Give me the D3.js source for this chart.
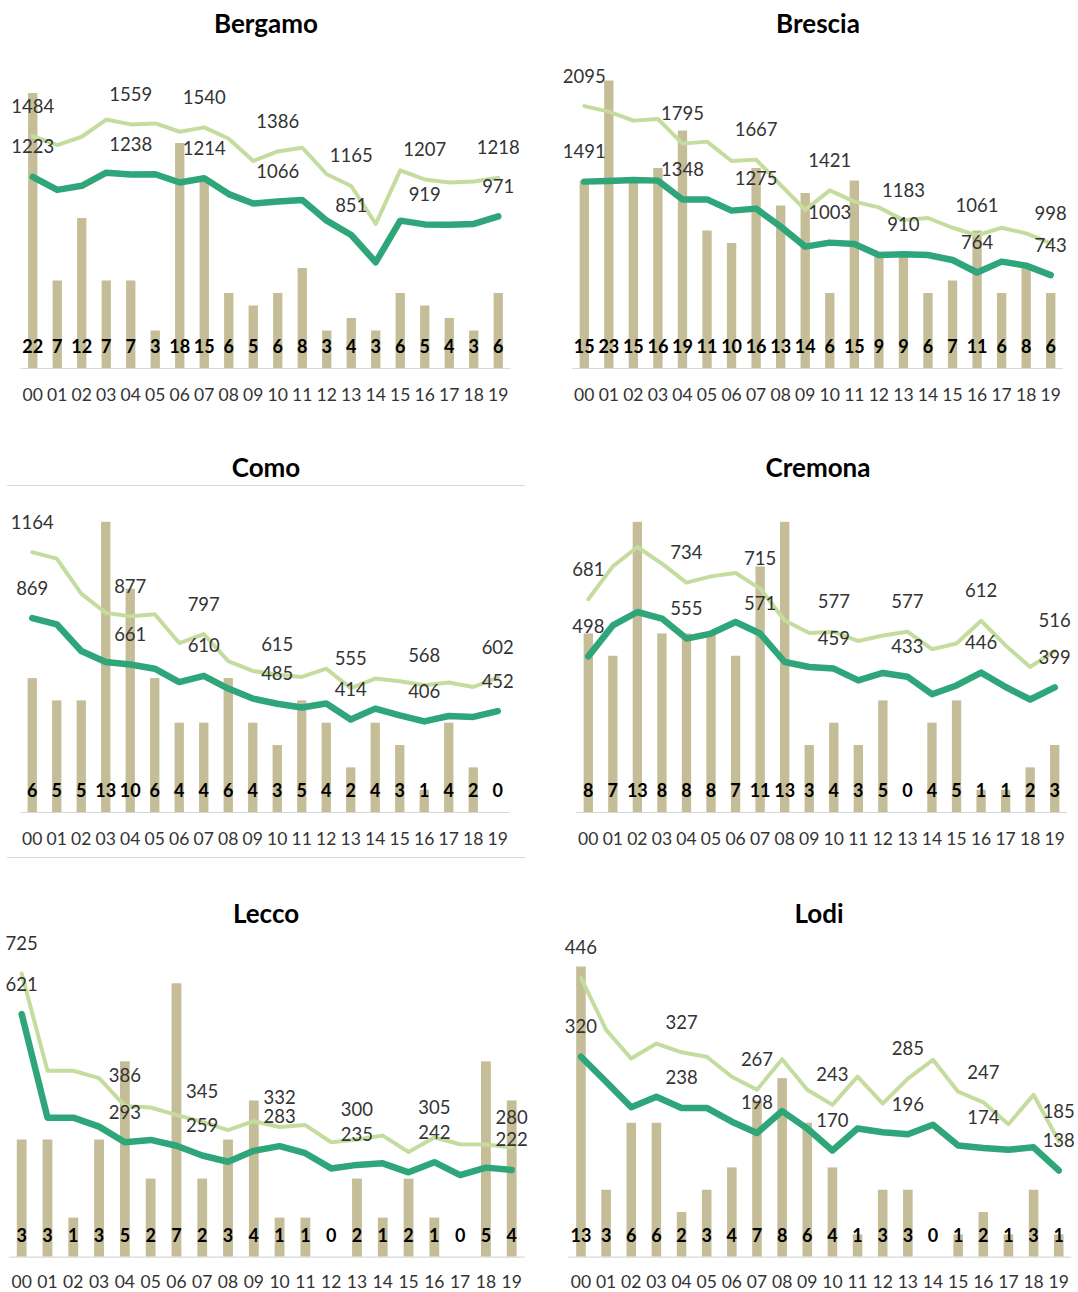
<!DOCTYPE html>
<html>
<head>
<meta charset="utf-8">
<script src="https://cdn.jsdelivr.net/npm/d3@7"></script>
<style>
  html, body { margin: 0; padding: 0; background: #fff; }
  svg { display: block; }
  text { font-family: Lato, "Open Sans", sans-serif; }
</style>
</head>
<body>
<svg id="chart" width="1078" height="1292"></svg>
<script>
// ---------- DATA ----------
const years = ["00","01","02","03","04","05","06","07","08","09","10","11","12","13","14","15","16","17","18","19"];
const provinces = ["Bergamo", "Brescia", "Como", "Cremona", "Lecco", "Lodi"];
const labelYears = ["00","04","07","10","13","16","19"];

const bergamoBars  = [22,7,12,7,7,3,18,15,6,5,6,8,3,4,3,6,5,4,3,6];
const bergamoLight = [1484,1427,1480,1590,1559,1565,1512,1540,1467,1325,1386,1410,1240,1165,922,1265,1207,1187,1193,1218];
const bergamoDark  = [1223,1140,1166,1250,1238,1240,1187,1214,1113,1053,1066,1075,943,851,677,943,919,917,922,971];

const bresciaBars  = [15,23,15,16,19,11,10,16,13,14,6,15,9,9,6,7,11,6,8,6];
const bresciaLight = [2095,2051,1979,1992,1795,1811,1656,1667,1464,1265,1421,1331,1285,1183,1200,1122,1061,1122,1077,998];
const bresciaDark  = [1491,1496,1504,1499,1348,1349,1259,1275,1131,971,1003,992,904,910,904,864,764,851,819,743];

const comoBars  = [6,5,5,13,10,6,4,4,6,4,3,5,4,2,4,3,1,4,2,0];
const comoLight = [1164,1135,978,892,877,886,757,797,676,632,615,605,642,555,598,586,568,580,560,602];
const comoDark  = [869,841,721,672,661,642,582,610,553,508,485,468,486,414,463,433,406,430,426,452];

const cremonaBars  = [8,7,13,8,8,8,7,11,13,3,4,3,5,0,4,5,1,1,2,3];
const cremonaLight = [681,786,848,795,734,754,765,715,613,573,577,547,565,577,521,539,612,533,464,516];
const cremonaDark  = [498,597,640,619,555,571,608,571,480,464,459,421,445,433,377,405,446,400,360,399];

const leccoBars  = [3,3,1,3,5,2,7,2,3,4,1,1,0,2,1,2,1,0,5,4];
const leccoLight = [725,476,476,457,386,382,363,345,324,347,332,337,293,300,310,268,305,288,287,280];
const leccoDark  = [621,356,356,333,293,299,284,259,243,271,283,265,226,235,239,216,242,209,228,222];

const lodiBars  = [13,3,6,6,2,3,4,7,8,6,4,1,3,3,0,1,2,1,3,1];
const lodiLight = [446,363,317,341,327,320,288,267,316,267,243,288,245,285,315,264,247,212,259,185];
const lodiDark  = [320,280,239,256,238,238,216,198,233,205,170,205,199,196,211,178,174,171,175,138];

const lineAxisMax = [2000, 2500, 1400, 1000, 800, 500];
const barAxisMax  = [25, 25, 14, 14, 8, 14];

const series = [
  {bars: bergamoBars, light: bergamoLight, dark: bergamoDark},
  {bars: bresciaBars, light: bresciaLight, dark: bresciaDark},
  {bars: comoBars,    light: comoLight,    dark: comoDark},
  {bars: cremonaBars, light: cremonaLight, dark: cremonaDark},
  {bars: leccoBars,   light: leccoLight,   dark: leccoDark},
  {bars: lodiBars,    light: lodiLight,    dark: lodiDark}
];

// ---------- LAYOUT ----------
const layout = [
  {x0: 20.5, x1: 510.5, base: 368,    tx: 266, ty: 33,  tick: 33},
  {x0: 572,  x1: 1063,  base: 368,    tx: 818, ty: 33,  tick: 33},
  {x0: 20,   x1: 510,   base: 812,    tx: 266, ty: 477, tick: 33},
  {x0: 576,  x1: 1067,  base: 812,    tx: 818, ty: 477, tick: 33},
  {x0: 8.8,  x1: 524.6, base: 1256.7, tx: 266, ty: 923, tick: 31},
  {x0: 568.4,x1: 1071.3,base: 1256.7, tx: 819, ty: 923, tick: 31}
];
const plotH = 312.5;

const COL_BAR = "#c4bd97";
const COL_LIGHT = "#c4dd9f";
const COL_DARK = "#2fa57a";
const COL_AXIS = "#d9d9d9";

const svg = d3.select("#chart");

// Como chart border fragments
svg.append("line").attr("x1", 7).attr("x2", 525).attr("y1", 485.5).attr("y2", 485.5)
  .attr("stroke", COL_AXIS).attr("stroke-width", 1);
svg.append("line").attr("x1", 7).attr("x2", 525).attr("y1", 857.5).attr("y2", 857.5)
  .attr("stroke", COL_AXIS).attr("stroke-width", 1);

provinces.forEach((name, p) => {
  const L = layout[p];
  const S = series[p];
  const g = svg.append("g");

  const x = d3.scaleBand().domain(years).range([L.x0, L.x1]).paddingInner(0.62).paddingOuter(0.31);
  const cx = d => x(d) + x.bandwidth() / 2;
  const yLine = d3.scaleLinear().domain([0, lineAxisMax[p]]).range([L.base, L.base - plotH]);
  const yBar = d3.scaleLinear().domain([0, barAxisMax[p]]).range([L.base, L.base - plotH]);

  // title
  g.append("text").attr("x", L.tx).attr("y", L.ty).attr("text-anchor", "middle")
    .attr("font-size", 26).attr("font-weight", "bold").attr("fill", "#000").text(name);

  // bars
  g.selectAll("rect.bar").data(years).join("rect")
    .attr("class", "bar")
    .attr("x", d => x(d))
    .attr("width", x.bandwidth())
    .attr("y", (d, i) => yBar(S.bars[i]))
    .attr("height", (d, i) => L.base - yBar(S.bars[i]))
    .attr("fill", COL_BAR);

  // x axis
  const axis = d3.axisBottom(x).tickSize(0).tickPadding(0);
  const ax = g.append("g").attr("transform", `translate(0,${L.base})`).call(axis);
  ax.select(".domain").attr("stroke", COL_AXIS).attr("stroke-width", 1.2)
    .attr("d", `M${L.x0},0.5H${L.x1}`);
  ax.selectAll(".tick text").attr("y", L.tick).attr("dy", 0)
    .attr("font-size", 17.5).attr("fill", "#333")
    .style("font-family", "Lato, sans-serif");

  // lines
  const lineGen = arr => d3.line().x((d, i) => cx(years[i])).y(d => yLine(d))(arr);
  g.append("path").attr("d", lineGen(S.light)).attr("fill", "none")
    .attr("stroke", COL_LIGHT).attr("stroke-width", 4)
    .attr("stroke-linejoin", "round").attr("stroke-linecap", "round");
  g.append("path").attr("d", lineGen(S.dark)).attr("fill", "none")
    .attr("stroke", COL_DARK).attr("stroke-width", 6.5)
    .attr("stroke-linejoin", "round").attr("stroke-linecap", "round");

  // bar value labels
  g.selectAll("text.blab").data(years).join("text")
    .attr("class", "blab")
    .attr("x", d => cx(d)).attr("y", L.base - 15)
    .attr("text-anchor", "middle").attr("font-size", 18).attr("font-weight", "bold")
    .attr("fill", "#000")
    .text((d, i) => S.bars[i]);

  // line value labels
  labelYears.forEach(yr => {
    const i = years.indexOf(yr);
    [S.light, S.dark].forEach(arr => {
      g.append("text").attr("x", cx(yr)).attr("y", yLine(arr[i]) - 23.5)
        .attr("text-anchor", "middle").attr("font-size", 18.5).attr("fill", "#333")
        .text(arr[i]);
    });
  });
});
</script>
</body>
</html>
